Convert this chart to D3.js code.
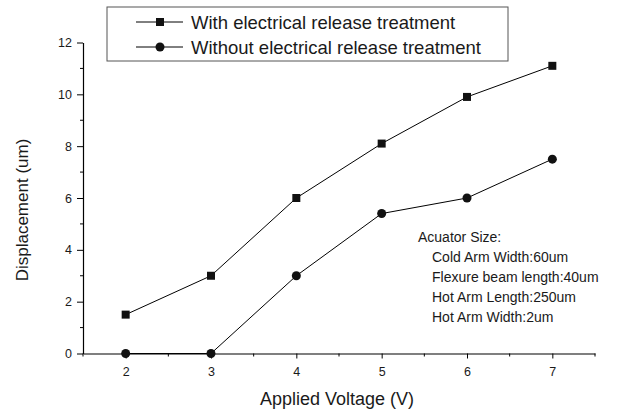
<!DOCTYPE html>
<html lang="en">
<head>
<meta charset="utf-8">
<title>Displacement vs Applied Voltage</title>
<script src="https://d3js.org/d3.v7.min.js"></script>
<style>
  body { margin: 0; background: #fff; }
  text { font-family: "Liberation Sans", Arial, sans-serif; fill: #1a1a1a; }
</style>
</head>
<body>
<script>
// data
const voltage = [2, 3, 4, 5, 6, 7];
const withRelease = [1.5, 3, 6, 8.1, 9.9, 11.1];
const withoutRelease = [0, 0, 3, 5.4, 6, 7.5];
const seriesNames = ["With electrical release treatment", "Without electrical release treatment"];
const xTicks = [2, 3, 4, 5, 6, 7];
const yTicks = [0, 2, 4, 6, 8, 10, 12];
const noteLines = ["Acuator Size:", "Cold Arm Width:60um", "Flexure beam length:40um", "Hot Arm Length:250um", "Hot Arm Width:2um"];

const w = 629, h = 412;
const plotLeft = 83, plotRight = 595, plotTop = 42.5, plotBottom = 353.5;

const svg = d3.select("body").append("svg")
  .attr("width", w).attr("height", h);

const x = d3.scaleLinear().domain([1.5, 7.5]).range([plotLeft, plotRight]);
const y = d3.scaleLinear().domain([0, 12]).range([plotBottom, plotTop]);

// axes
const xAxis = svg.append("g")
  .attr("transform", "translate(0," + plotBottom + ")")
  .call(d3.axisBottom(x).tickValues(xTicks).tickSize(5).tickSizeOuter(0).tickPadding(9).tickFormat(d3.format("d")));
xAxis.append("g").selectAll("line")
  .data(d3.range(1.5, 7.51, 1))
  .join("line")
  .attr("x1", d => x(d)).attr("x2", d => x(d))
  .attr("y1", 0).attr("y2", 3)
  .attr("stroke", "#000");

const yAxis = svg.append("g")
  .attr("transform", "translate(" + plotLeft + ",0)")
  .call(d3.axisLeft(y).tickValues(yTicks).tickSize(6).tickSizeOuter(0).tickPadding(5).tickFormat(d3.format("d")));
yAxis.append("g").selectAll("line")
  .data(d3.range(1, 12, 2))
  .join("line")
  .attr("x1", 0).attr("x2", -3)
  .attr("y1", d => y(d)).attr("y2", d => y(d))
  .attr("stroke", "#000");

svg.selectAll(".domain").attr("stroke", "#000").attr("stroke-width", 1.2);
svg.selectAll(".tick line").attr("stroke", "#000");
svg.selectAll(".tick text").style("font-size", "12.5px").style("fill", "#1a1a1a");

// axis titles
svg.append("text")
  .attr("x", 337)
  .attr("y", 405)
  .attr("text-anchor", "middle")
  .style("font-size", "18px")
  .text("Applied Voltage (V)");

svg.append("text")
  .attr("transform", "translate(28,210) rotate(-90)")
  .attr("text-anchor", "middle")
  .style("font-size", "17px")
  .text("Displacement (um)");

// lines and markers
const line = d3.line().x((d, i) => x(voltage[i])).y(d => y(d));

svg.append("path").datum(withRelease)
  .attr("d", line).attr("fill", "none").attr("stroke", "#000").attr("stroke-width", 1);
svg.append("path").datum(withoutRelease)
  .attr("d", line).attr("fill", "none").attr("stroke", "#000").attr("stroke-width", 1);

svg.append("g").selectAll("rect")
  .data(withRelease)
  .join("rect")
  .attr("x", (d, i) => x(voltage[i]) - 4)
  .attr("y", d => y(d) - 4)
  .attr("width", 8).attr("height", 8)
  .attr("fill", "#111");

svg.append("g").selectAll("circle")
  .data(withoutRelease)
  .join("circle")
  .attr("cx", (d, i) => x(voltage[i]))
  .attr("cy", d => y(d))
  .attr("r", 4.5)
  .attr("fill", "#111");

// legend
const legend = svg.append("g");
legend.append("rect")
  .attr("x", 107).attr("y", 7).attr("width", 401).attr("height", 54)
  .attr("fill", "#fff").attr("stroke", "#555").attr("stroke-width", 1);

seriesNames.forEach((name, i) => {
  const ly = 22 + i * 25;
  legend.append("line")
    .attr("x1", 136).attr("x2", 183).attr("y1", ly).attr("y2", ly)
    .attr("stroke", "#000");
  if (i === 0) {
    legend.append("rect").attr("x", 156).attr("y", ly - 4).attr("width", 8).attr("height", 8).attr("fill", "#111");
  } else {
    legend.append("circle").attr("cx", 160).attr("cy", ly).attr("r", 4.5).attr("fill", "#111");
  }
  legend.append("text")
    .attr("x", 191).attr("y", ly + 6.5)
    .style("font-size", "18.5px")
    .text(name);
});

// annotation
svg.append("g").selectAll("text")
  .data(noteLines)
  .join("text")
  .attr("x", (d, i) => i === 0 ? 418 : 432)
  .attr("y", (d, i) => 242 + i * 20)
  .style("font-size", "14px")
  .text(d => d);
</script>
</body>
</html>
